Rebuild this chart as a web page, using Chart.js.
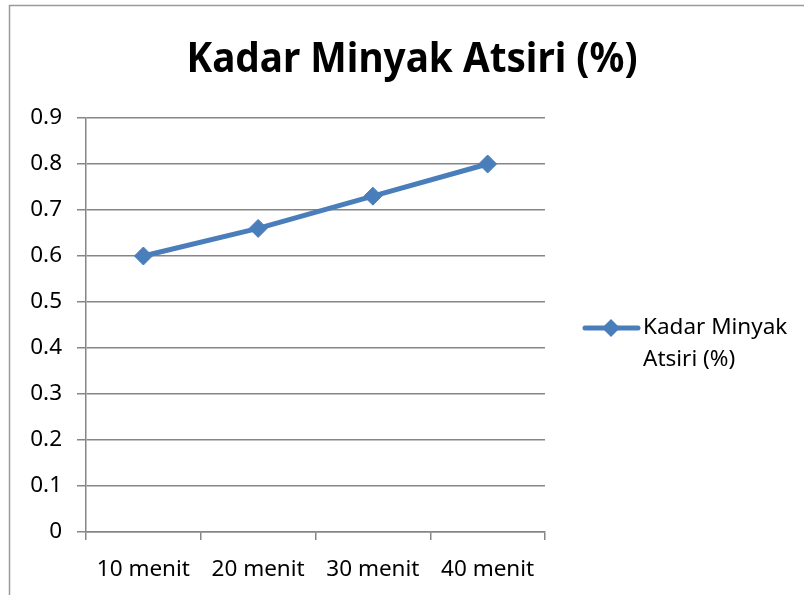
<!DOCTYPE html>
<html>
<head>
<meta charset="utf-8">
<script src="https://cdn.jsdelivr.net/npm/chart.js@4"></script>
<style>
  html, body { margin: 0; padding: 0; background: #fff; }
  #wrap { width: 804px; height: 595px; }
</style>
</head>
<body>
<div id="wrap"><canvas id="kadar_chart" width="804" height="595"></canvas></div>
<script>
"use strict";

const chartTitle = "Kadar Minyak Atsiri (%)";
const seriesName = ["Kadar Minyak", "Atsiri (%)"];
const categories = ["10 menit", "20 menit", "30 menit", "40 menit"];
const kadarValues = [0.6, 0.66, 0.73, 0.8];
const yTicks = [0, 0.1, 0.2, 0.3, 0.4, 0.5, 0.6, 0.7, 0.8, 0.9];

const blue = "#4a7ebb";
const gridGray = "#868686";
const fontFamily = "'Noto Sans', 'Open Sans', sans-serif";

// border, title and legend drawn like the Excel chart
const excelDecor = {
  id: "excelDecor",
  afterDraw(chart) {
    const ctx = chart.ctx;
    ctx.save();

    ctx.strokeStyle = "#9a9a9a";
    ctx.lineWidth = 1.5;
    ctx.beginPath();
    ctx.moveTo(9.5, 595);
    ctx.lineTo(9.5, 5.5);
    ctx.lineTo(804, 5.5);
    ctx.stroke();

    ctx.fillStyle = "#000";
    ctx.font = "bold 42px " + fontFamily;
    ctx.textBaseline = "alphabetic";
    ctx.textAlign = "center";
    const w = ctx.measureText(chartTitle).width;
    ctx.translate(412, 72);
    ctx.scale(451 / w, 1);
    ctx.fillText(chartTitle, 0, 0);
    ctx.setTransform(1, 0, 0, 1, 0, 0);

    ctx.strokeStyle = blue;
    ctx.lineWidth = 5;
    ctx.lineCap = "round";
    ctx.beginPath();
    ctx.moveTo(585, 328);
    ctx.lineTo(638, 328);
    ctx.stroke();
    ctx.fillStyle = blue;
    ctx.beginPath();
    ctx.moveTo(602, 328);
    ctx.lineTo(611, 319);
    ctx.lineTo(620, 328);
    ctx.lineTo(611, 337);
    ctx.closePath();
    ctx.fill();

    ctx.fillStyle = "#000";
    ctx.font = "22.5px " + fontFamily;
    ctx.textAlign = "left";
    ctx.textBaseline = "middle";
    ctx.fillText(seriesName[0], 643, 328);
    ctx.fillText(seriesName[1], 643, 360);
    ctx.restore();
  }
};

const ctx = document.getElementById("kadar_chart").getContext("2d");

const kadarChart = new Chart(ctx, {
  type: "line",
  data: {
    labels: categories,
    datasets: [
      {
        label: seriesName.join(" "),
        data: kadarValues,
        borderColor: blue,
        backgroundColor: blue,
        borderWidth: 5,
        pointStyle: "rectRot",
        pointRadius: 9,
        pointBorderWidth: 1,
        pointBackgroundColor: blue,
        pointBorderColor: blue,
        tension: 0
      }
    ]
  },
  options: {
    responsive: false,
    animation: false,
    layout: { padding: { left: 9, right: 259, top: 118, bottom: 0 } },
    plugins: {
      legend: { display: false },
      title: { display: false },
      tooltip: { enabled: false }
    },
    scales: {
      x: {
        offset: true,
        afterFit(scale) { scale.height = 63; },
        grid: {
          offset: true,
          drawOnChartArea: false,
          drawTicks: true,
          tickLength: 8,
          color: gridGray,
          lineWidth: 1.5
        },
        border: { color: gridGray, width: 1.5 },
        ticks: {
          color: "#000",
          padding: 16,
          maxRotation: 0,
          font: { family: fontFamily, size: 22.5 }
        }
      },
      y: {
        min: 0,
        max: 0.9,
        afterFit(scale) { scale.width = 77; },
        afterBuildTicks(scale) {
          scale.ticks = yTicks.map((v) => ({ value: v }));
        },
        grid: {
          color: gridGray,
          lineWidth: 1.5,
          drawTicks: true,
          tickLength: 9
        },
        border: { color: gridGray, width: 1.5 },
        ticks: {
          color: "#000",
          padding: 15,
          font: { family: fontFamily, size: 22.5 },
          callback: (v) => String(Math.round(v * 10) / 10)
        }
      }
    }
  },
  plugins: [excelDecor]
});
</script>
</body>
</html>
